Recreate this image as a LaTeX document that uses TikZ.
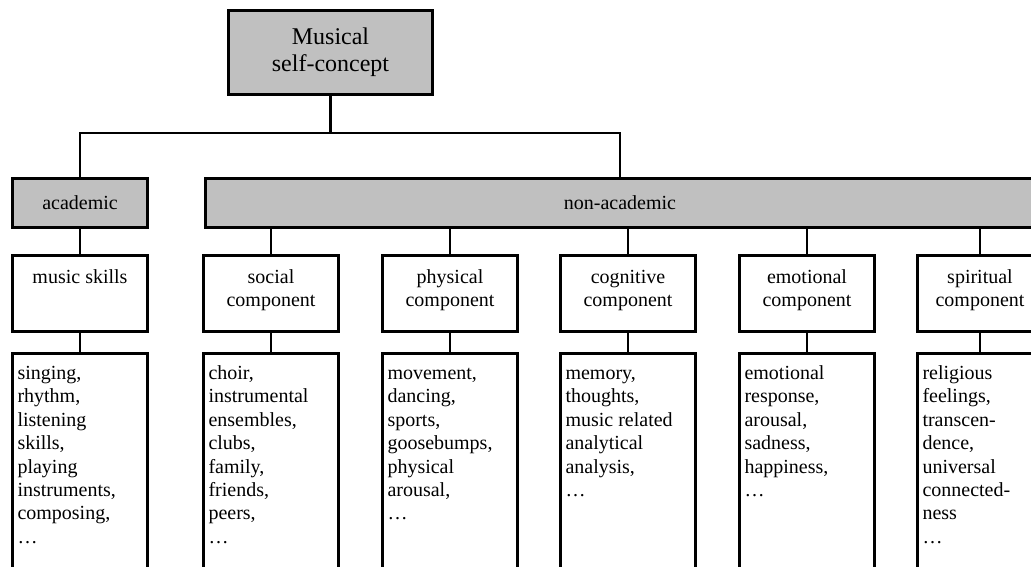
\documentclass[tikz,border=0pt]{standalone}
\usepackage{fontspec}
\setmainfont{Liberation Serif}
\definecolor{boxgray}{RGB}{192,192,192}
\newcommand\comptitle[2]{\parbox[t][60pt][t]{#1}{\centering\rule{0pt}{20pt}#2}}
\newcommand\listtext[2]{\parbox[t][240pt][t]{#1}{\raggedright\rule{0pt}{19pt}#2}}
\begin{document}
\begin{tikzpicture}[x=1pt,y=-1pt,
  every node/.style={font=\fontsize{20}{23.4}\selectfont},
  frame/.style={draw=black, line width=3pt},
  headbox/.style={frame, fill=boxgray, inner sep=0pt, align=center},
  compbox/.style={frame, anchor=north, inner xsep=5pt, inner ysep=8pt, font=\fontsize{20}{22.5}\selectfont},
  listbox/.style={frame, anchor=north west, inner xsep=5pt, inner ysep=7pt},
  wire/.style={line width=2.8pt}]
\useasboundingbox (0,0) rectangle (1031,567);
\clip (0,0) rectangle (1031,567);
\fill[white] (0,0) rectangle (1031,567);

% head boxes
\node[headbox, minimum width=204pt, minimum height=84pt, font=\fontsize{24}{27}\selectfont] (top) at (330.5,52.5) {Musical\\self-concept};
\node[headbox, minimum width=135pt, minimum height=49pt] (acad) at (80,203) {academic};
\node[headbox, minimum width=829pt, minimum height=49pt] (nonacad) at (620,203) {non-academic};

% component boxes
\node[compbox] (skills) at (80,254) {\comptitle{125pt}{music skills}};
\node[compbox] (soc) at (271,254) {\comptitle{125pt}{social\\component}};
\node[compbox] (phys) at (450,254) {\comptitle{125pt}{physical\\component}};
\node[compbox] (cog) at (628,254) {\comptitle{125pt}{cognitive\\component}};
\node[compbox] (emo) at (807,254) {\comptitle{125pt}{emotional\\component}};
\node[compbox] (spir) at (980,254) {\comptitle{115pt}{spiritual\\component}};

% list boxes
\node[listbox] (skills-list) at (11,352) {\listtext{125pt}{singing,\\rhythm,\\listening\\skills,\\playing\\instruments,\\composing,\\\ldots}};
\node[listbox] (soc-list) at (202,352) {\listtext{125pt}{choir,\\instrumental\\ensembles,\\clubs,\\family,\\friends,\\peers,\\\ldots}};
\node[listbox] (phys-list) at (381,352) {\listtext{125pt}{movement,\\dancing,\\sports,\\goosebumps,\\physical\\arousal,\\\ldots}};
\node[listbox] (cog-list) at (559,352) {\listtext{125pt}{memory,\\thoughts,\\music related\\analytical\\analysis,\\\ldots}};
\node[listbox] (emo-list) at (738,352) {\listtext{125pt}{emotional\\response,\\arousal,\\sadness,\\happiness,\\\ldots}};
\node[listbox] (spir-list) at (916,352) {\listtext{115pt}{religious\\feelings,\\transcen-\\dence,\\universal\\connected-\\ness\\\ldots}};

% connectors
\coordinate (busmid) at (331,133);
\draw[wire] (top.south) -- (top.south |- busmid);
\draw[wire] (acad.north) |- (busmid) -| (nonacad.north);
\draw[wire] (acad.south) -- (skills.north);
\foreach \c in {soc,phys,cog,emo,spir}
  \draw[wire] (nonacad.south -| \c.north) -- (\c.north);
\foreach \c in {skills,soc,phys,cog,emo,spir}
  \draw[wire] (\c.south) -- (\c-list.north);
\end{tikzpicture}
\end{document}
